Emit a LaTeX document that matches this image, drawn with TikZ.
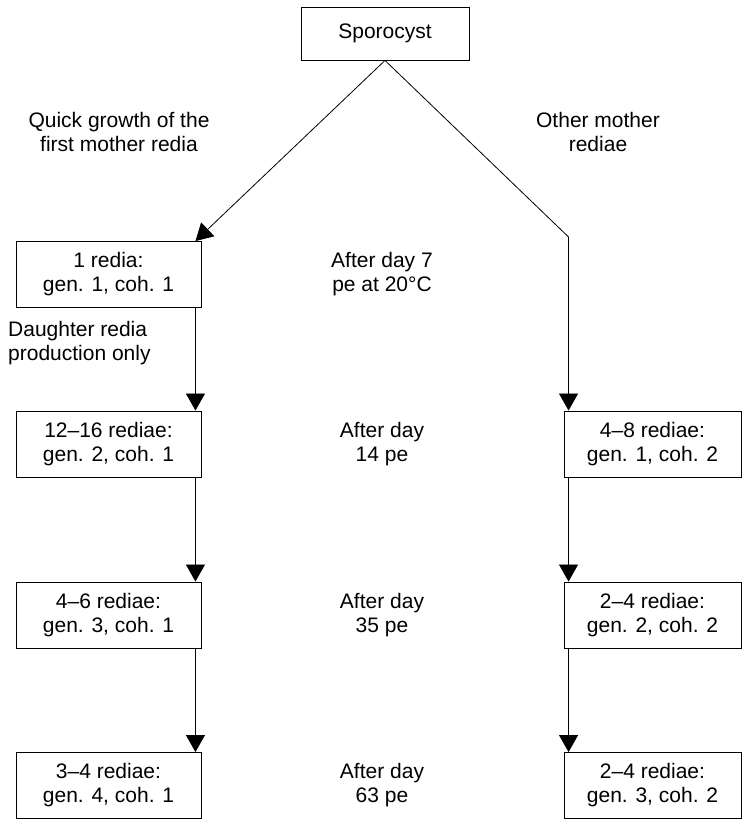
\documentclass[tikz,border=0pt]{standalone}
\usepackage{fontspec}
\setmainfont{Liberation Sans}
\usetikzlibrary{arrows.meta}
\begin{document}
\begin{tikzpicture}[x=1pt,y=-1pt,
  every node/.style={font=\fontsize{21}{24}\selectfont, align=center, inner sep=0pt},
  box/.style={draw, line width=0.9pt, minimum height=66pt},
  lbox/.style={box, minimum width=185pt},
  rbox/.style={box, minimum width=177pt},
  conn/.style={line width=0.8pt},
  arr/.style={conn, -{Triangle[width=19pt,length=17pt]}}
]
\useasboundingbox (0,0) rectangle (742,819);

% boxes
\node[box, minimum width=168pt, minimum height=53pt] (sp) at (385,33.5) {Sporocyst};
\node[lbox] (l1) at (108.5,274.5) {1 redia:\\gen. 1, coh. 1};
\node[lbox] (l2) at (108.5,444) {12–16 rediae:\\gen. 2, coh. 1};
\node[lbox] (l3) at (108.5,615) {4–6 rediae:\\gen. 3, coh. 1};
\node[lbox] (l4) at (108.5,785.5) {3–4 rediae:\\gen. 4, coh. 1};
\node[rbox] (r2) at (652.5,444) {4–8 rediae:\\gen. 1, coh. 2};
\node[rbox] (r3) at (652.5,615) {2–4 rediae:\\gen. 2, coh. 2};
\node[rbox] (r4) at (652.5,785.5) {2–4 rediae:\\gen. 3, coh. 2};

% labels
\node (ql) at (119,131.5) {Quick growth of the\\first mother redia};
\node (qr) at (598,131.5) {Other mother\\rediae};
\node[align=left, anchor=west] (dl) at (8,343) {Daughter redia\\production only};
\node (t1) at (382,274.5) {After day 7\\pe at 20°C};
\node (t2) at (382,444) {After day\\14 pe};
\node (t3) at (382,615) {After day\\35 pe};
\node (t4) at (382,785.5) {After day\\63 pe};

% connector anchors
\coordinate (l1top) at ([xshift=-6pt]l1.north east);
\coordinate (l1bot) at ([xshift=-6pt]l1.south east);
\coordinate (l2top) at ([xshift=-6pt]l2.north east);
\coordinate (l2bot) at ([xshift=-6pt]l2.south east);
\coordinate (l3top) at ([xshift=-6pt]l3.north east);
\coordinate (l3bot) at ([xshift=-6pt]l3.south east);
\coordinate (l4top) at ([xshift=-6pt]l4.north east);
\coordinate (r2top) at ([xshift=5pt]r2.north west);
\coordinate (r2bot) at ([xshift=5pt]r2.south west);
\coordinate (r3top) at ([xshift=5pt]r3.north west);
\coordinate (r3bot) at ([xshift=5pt]r3.south west);
\coordinate (r4top) at ([xshift=5pt]r4.north west);
\coordinate (bend) at (r2top |- 0,237);

% connectors
\draw[arr] (sp.south) -- (l1top);
\draw[arr] (sp.south) -- (bend) -- (r2top);
\draw[arr] (l1bot) -- (l2top);
\draw[arr] (l2bot) -- (l3top);
\draw[arr] (l3bot) -- (l4top);
\draw[arr] (r2bot) -- (r3top);
\draw[arr] (r3bot) -- (r4top);
\end{tikzpicture}
\end{document}
